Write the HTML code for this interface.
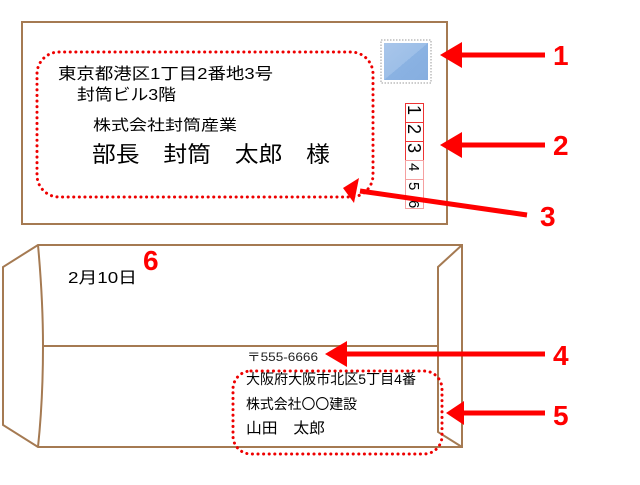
<!DOCTYPE html>
<html><head><meta charset="utf-8"><style>
body{margin:0;background:#fff;width:640px;height:480px;overflow:hidden}
svg text{font-family:"Liberation Sans","Noto Sans CJK JP",sans-serif}
</style></head><body>
<svg width="640" height="480" viewBox="0 0 640 480">
<defs><linearGradient id="g" x1="0" y1="0" x2="1" y2="1"><stop offset="0" stop-color="#a9c6ea"/><stop offset="0.5" stop-color="#9dbfe8"/><stop offset="0.5" stop-color="#8ab2e2"/><stop offset="1" stop-color="#86aee0"/></linearGradient></defs>
<rect x="22" y="22" width="425" height="202" fill="#fff" stroke="#a57a52" stroke-width="2"/>
<rect x="381" y="40" width="50" height="43" fill="#fff" stroke="#999" stroke-dasharray="1.5 1.5"/>
<rect x="384" y="43" width="44" height="37" fill="url(#g)"/>
<g fill="#fff" stroke-width="1">
<rect x="405.5" y="103.5" width="18" height="19" stroke="#e33"/>
<rect x="405.5" y="122.5" width="18" height="19" stroke="#e33"/>
<rect x="405.5" y="141.5" width="18" height="19" stroke="#e33"/>
<rect x="405.5" y="160.5" width="18" height="19" stroke="#f5a0a0"/>
<rect x="405.5" y="179.5" width="18" height="19" stroke="#f5a0a0"/>
<rect x="405.5" y="198.5" width="18" height="10" stroke="#f5a0a0"/>
</g>
<g font-size="18" fill="#000">
<text transform="translate(408,105) rotate(90)">1</text>
<text transform="translate(408,124) rotate(90)">2</text>
<text transform="translate(408,143) rotate(90)">3</text>
<text transform="translate(409,163) rotate(90)" font-size="15">4</text>
<text transform="translate(409,182) rotate(90)" font-size="15">5</text>
<text transform="translate(409,200) rotate(90)" font-size="15">6</text>
</g>
<rect x="37" y="52" width="336" height="145" rx="22" fill="none" stroke="#e00" stroke-width="3" stroke-dasharray="0.1 5.5" stroke-linecap="round"/>
<text x="58" y="79" font-size="16" textLength="215" lengthAdjust="spacingAndGlyphs">東京都港区1丁目2番地3号</text>
<text x="77" y="100" font-size="16" textLength="99" lengthAdjust="spacingAndGlyphs">封筒ビル3階</text>
<text x="93" y="130" font-size="15" textLength="144" lengthAdjust="spacingAndGlyphs">株式会社封筒産業</text>
<text x="92" y="162" font-size="22" xml:space="preserve" textLength="238" lengthAdjust="spacingAndGlyphs">部長　封筒　太郎　様</text>
<g fill="none" stroke="#a57a52" stroke-width="2">
<path d="M38 245 L3 267 L3 425 L38 447 L462 447 L462 245 Z" fill="#fff"/>
<path d="M38 245 Q43 300 43 346 Q43 400 38 447"/>
<path d="M43 346 L438 346"/>
<path d="M462 245 L438 267 L438 432 L462 447"/>
</g>
<text x="68" y="283" font-size="16" textLength="69" lengthAdjust="spacingAndGlyphs">2月10日</text>
<text x="247" y="361" font-size="12" fill="#222" textLength="71" lengthAdjust="spacingAndGlyphs">〒555-6666</text>
<rect x="233" y="371" width="209" height="83" rx="18" fill="none" stroke="#e00" stroke-width="3" stroke-dasharray="0.1 5.5" stroke-linecap="round"/>
<text x="246" y="384" font-size="14" textLength="170" lengthAdjust="spacingAndGlyphs">大阪府大阪市北区5丁目4番</text>
<text x="246" y="409" font-size="14" textLength="111" lengthAdjust="spacingAndGlyphs">株式会社〇〇建設</text>
<text x="246" y="433" font-size="15" xml:space="preserve" textLength="79" lengthAdjust="spacingAndGlyphs">山田　太郎</text>
<g stroke="#f00" stroke-width="5" fill="#f00">
<line x1="545" y1="55" x2="455" y2="55"/>
<line x1="545" y1="145" x2="455" y2="145"/>
<line x1="527" y1="215" x2="360" y2="191"/>
<line x1="545" y1="354" x2="340" y2="354"/>
<line x1="545" y1="413" x2="460" y2="413"/>
</g>
<g fill="#f00">
<polygon points="440,55 462,42 462,68"/>
<polygon points="440,145 462,132 462,158"/>
<polygon points="343,188 359,178 354,203"/>
<polygon points="325,354 347,341 347,367"/>
<polygon points="446,413 464,401 464,425"/>
</g>
<g font-size="28" font-weight="bold" fill="#f00">
<text x="553" y="65">1</text>
<text x="553" y="155">2</text>
<text x="540" y="226">3</text>
<text x="553" y="365">4</text>
<text x="553" y="425">5</text>
<text x="143" y="270">6</text>
</g>
</svg>
</body></html>
